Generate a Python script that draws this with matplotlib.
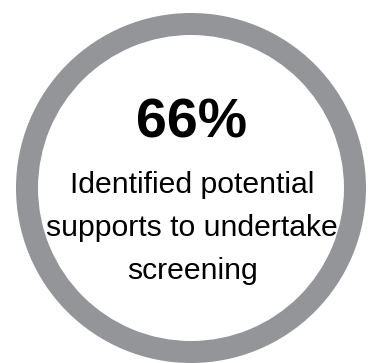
import matplotlib.pyplot as plt
from matplotlib.patches import Wedge

# figure content
pct_value = 66
caption_lines = ["Identified potential", "supports to undertake", "screening"]
ring_color = "#939598"

W, H = 368, 363
fig = plt.figure(figsize=(W / 100, H / 100), dpi=100)
ax = fig.add_axes([0, 0, 1, 1])
ax.set_xlim(0, W)
ax.set_ylim(H, 0)
ax.set_aspect("equal")
ax.axis("off")

# ring around the statistic
cx, cy = 191, 188
r_out, r_in = 175, 153
ax.add_patch(Wedge((cx, cy), r_out, 0, 360, width=r_out - r_in,
                   facecolor=ring_color, edgecolor="none"))

ax.text(192, 137, f"{pct_value}%", ha="center", va="baseline",
        fontsize=40, fontweight="bold", family="Liberation Sans", color="black")

# caption, one line at a time
for i, line in enumerate(caption_lines):
    ax.text(192, 193 + i * 43, line, ha="center", va="baseline",
            fontsize=21.7, family="Liberation Sans", color="black")

fig.savefig("out.png", dpi=100)
